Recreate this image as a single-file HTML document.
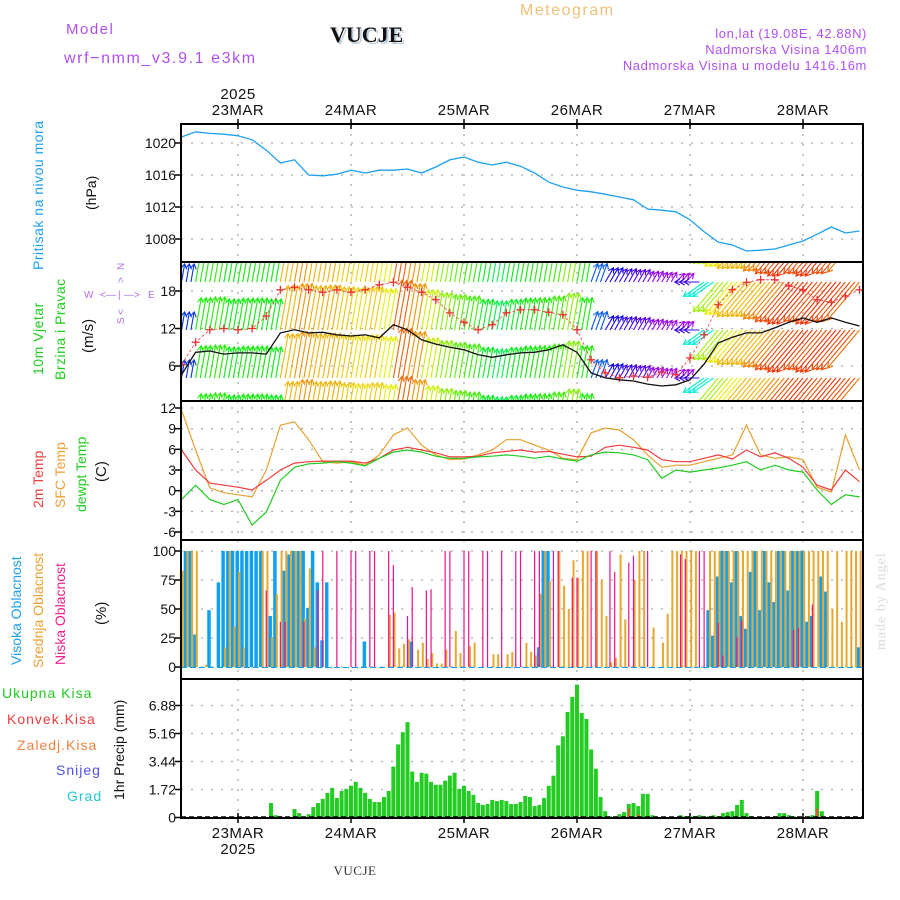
<!DOCTYPE html>
<html><head><meta charset="utf-8">
<style>
html,body{margin:0;padding:0;background:#fff;}
svg{display:block;font-family:"Liberation Sans",sans-serif;}
</style></head>
<body>
<svg id="chart" width="900" height="900" viewBox="0 0 900 900" xmlns="http://www.w3.org/2000/svg">
<rect x="0" y="0" width="900" height="900" fill="#fff"/>
<defs>
<clipPath id="cp1"><rect x="181" y="124" width="682" height="138"/></clipPath>
<clipPath id="cp2"><rect x="181" y="262" width="682" height="139"/></clipPath>
<clipPath id="cp3"><rect x="181" y="401" width="682" height="139"/></clipPath>
<clipPath id="cp4"><rect x="181" y="540" width="682" height="139"/></clipPath>
<clipPath id="cp5"><rect x="181" y="679" width="682" height="139"/></clipPath>
</defs>
<!-- header -->
<text x="66" y="34" font-size="15" fill="#b050f0" letter-spacing="1.5">Model</text>
<text x="64" y="63" font-size="16" fill="#b050f0" letter-spacing="1.6">wrf−nmm_v3.9.1 e3km</text>
<text x="332" y="44" font-size="22" font-weight="bold" fill="#bcd" font-family="Liberation Serif, serif">VUCJE</text>
<text x="330" y="42" font-size="22" font-weight="bold" fill="#111" font-family="Liberation Serif, serif">VUCJE</text>
<text x="520" y="15" font-size="16" fill="#f0c078" letter-spacing="1.5">Meteogram</text>
<text x="867" y="38" font-size="13" fill="#b050f0" text-anchor="end" letter-spacing="0.6">lon,lat (19.08E, 42.88N)</text>
<text x="867" y="54" font-size="13" fill="#b050f0" text-anchor="end" letter-spacing="0.6">Nadmorska Visina 1406m</text>
<text x="867" y="70" font-size="13" fill="#b050f0" text-anchor="end" letter-spacing="0.6">Nadmorska Visina u modelu 1416.16m</text>
<text x="238" y="99" font-size="15" fill="#111" text-anchor="middle" letter-spacing="0.5">2025</text>
<text x="238" y="854" font-size="15" fill="#111" text-anchor="middle" letter-spacing="0.5">2025</text>
<text x="355" y="875" font-size="13" fill="#333" text-anchor="middle" font-family="Liberation Serif, serif" letter-spacing="0.5">VUCJE</text>
<text transform="translate(885,650) rotate(-90)" font-size="14" fill="#d8dcd8" font-family="Liberation Serif, serif" letter-spacing="1">made by Angel</text>

<!-- left labels -->
<text transform="translate(43,270) rotate(-90)" font-size="14" fill="#1ea0f0" letter-spacing="0.5">Pritisak na nivou mora</text>
<text transform="translate(96,210) rotate(-90)" font-size="14" fill="#111">(hPa)</text>
<text transform="translate(43,375) rotate(-90)" font-size="14" fill="#20cc20" letter-spacing="0.5">10m Vjetar</text>
<text transform="translate(65,380) rotate(-90)" font-size="14" fill="#20cc20" letter-spacing="0.5">Brzina i Pravac</text>
<text transform="translate(93,353) rotate(-90)" font-size="15" fill="#111">(m/s)</text>
<g fill="#b070f0" font-size="10">
<text x="84" y="298">W</text><text x="100" y="298">&lt;—</text><text x="118" y="298">|</text><text x="124" y="298">—&gt;</text><text x="148" y="298">E</text>
<text transform="translate(124,270) rotate(-90)">N</text>
<text transform="translate(124,283) rotate(-90)">&gt;</text>
<text transform="translate(124,315) rotate(-90)">&lt;</text>
<text transform="translate(124,324) rotate(-90)">S</text>
</g>
<text transform="translate(43,508) rotate(-90)" font-size="14" fill="#f03c3c">2m Temp</text>
<text transform="translate(65,508) rotate(-90)" font-size="14" fill="#f0a030">SFC Temp</text>
<text transform="translate(86,512) rotate(-90)" font-size="14" fill="#20cc20">dewpt Temp</text>
<text transform="translate(106,482) rotate(-90)" font-size="15" fill="#111">(C)</text>
<text transform="translate(21,665) rotate(-90)" font-size="14" fill="#1ea0f0">Visoka Oblacnost</text>
<text transform="translate(43,668) rotate(-90)" font-size="14" fill="#f0a030">Srednja Oblacnost</text>
<text transform="translate(65,665) rotate(-90)" font-size="14" fill="#f0208c">Niska Oblacnost</text>
<text transform="translate(106,625) rotate(-90)" font-size="15" fill="#111">(%)</text>
<text transform="translate(124,800) rotate(-90)" font-size="14" fill="#111">1hr Precip (mm)</text>
<text x="2" y="698" font-size="14" fill="#20cc20" letter-spacing="1">Ukupna Kisa</text>
<text x="7" y="724" font-size="14" fill="#f03c3c" letter-spacing="1">Konvek.Kisa</text>
<text x="17" y="750" font-size="14" fill="#f08040" letter-spacing="1">Zaledj.Kisa</text>
<text x="56" y="775" font-size="14" fill="#5050f0" letter-spacing="1">Snijeg</text>
<text x="67" y="801" font-size="14" fill="#20c8d8" letter-spacing="1">Grad</text>
<g id="plots"></g>
</svg>
<script>
const days = ["23MAR","24MAR","25MAR","26MAR","27MAR","28MAR"];
const dayHours = [12,36,60,84,108,132];
const pressTicks = [1020,1016,1012,1008];
const windTicks = [18,12,6];
const tempTicks = [12,9,6,3,0,-3,-6];
const cloudTicks = [100,75,50,25,0];
const precipTicks = [6.88,5.16,3.44,1.72,0];
// 3-hourly series (hours 0,3,...,144 from 22MAR 12UTC)
const pressure = [1020.75,1021.4,1021.2,1021.1,1020.9,1020.4,1019.1,1017.5,1017.9,1016,1015.9,1016.1,1016.6,1016.25,1016.6,1016.6,1016.75,1016.25,1017,1017.9,1018.25,1017.6,1017.25,1017.6,1017.1,1016.25,1015.1,1014.5,1014.1,1013.9,1013.6,1013.25,1012.9,1011.75,1011.6,1011.4,1010.4,1008.9,1007.6,1007.25,1006.5,1006.6,1006.75,1007.25,1007.75,1008.6,1009.5,1008.75,1009];
const temp2m = [5.9,3,1.1,0.8,0.5,0.1,1.5,3,4,4.2,4.3,4.3,4.3,4,4.7,5.9,6.3,5.9,5.5,4.9,4.9,5,5.5,5.7,5.9,5.6,5.7,5.3,4.9,5,6.3,6.6,6.3,5.9,4.5,4.2,4.2,4.7,5.2,4.6,5.9,4.9,5.5,4.7,3.4,0.8,0.1,3,1.3];
const tempSfc = [11.7,5.9,0.4,-0.3,-0.6,-0.9,3,9.5,10,7.4,4.2,4,4.2,3.7,5.2,8.1,9.1,6.6,5.2,4.5,4.6,5.2,5.9,7.4,7.4,6.6,5.9,4.7,4.5,8.4,9.1,8.8,7.4,5.2,3.4,3.7,3.7,4.2,4.7,5.2,9.5,5.2,4.7,4.9,4.5,0.5,-0.2,8.1,3];
const dewpt = [-1.3,0.8,-1.3,-2,-1.3,-5,-3.1,1.5,3.4,3.9,4,4.2,4,3.6,4.7,5.6,5.9,5.6,5,4.7,4.7,4.9,5,5.2,5,4.7,5,4.6,4.3,5.2,5.6,5.5,5.2,4.5,1.8,3,2.7,3,3.3,3.7,4.2,3,3.7,3,2.7,0.1,-2,-0.6,-0.9];
const windSpeed = [4.6,8.2,8.4,7.9,8.1,8.1,7.9,11.3,11.8,11.3,11.4,11,10.8,11,10.5,12.6,11.8,10.2,9.5,9,8.6,7.8,7.4,7.8,8.1,8.2,8.6,9.4,8.2,4.9,4.1,3.8,3.6,3.1,2.8,3,3.8,6.3,9.7,10.6,11.3,11.3,12.1,13,13.7,13,13.7,13,12.4];
const windGust = [6.2,9.8,11.8,12,11.8,12,14,18.2,18.6,18.2,17.8,18.2,17.8,18.2,19,19.4,18.6,17.8,16.6,14.5,13,11.8,12.6,14.5,15,15,14.6,14.2,11.8,7,4.9,4.1,4.4,4.2,5,4.6,7.3,11,15.8,18.2,19.4,19.8,19.8,18.8,18.2,16.6,16.2,17.2,18.2];
const windDirTo = [10,10,10,10,10,10,10,10,10,10,10,10,10,10,10,10,10,10,10,10,10,10,10,10,10,10,10,10,10,20,30,30,30,30,30,45,270,235,220,220,220,220,220,220,220,220,220,220,220];
// hourly series
const cloudHigh = [61,100,100,28,0,0,49,0,73,100,100,100,100,100,100,100,100,100,0,44,100,0,83,97,
100,100,100,51,100,73,23,73,0,0,0,0,0,0,0,22,0,0,0,0,0,0,0,0,
0,22,0,0,0,0,0,0,0,0,0,0,0,0,0,0,0,0,0,0,0,0,0,0,
0,0,0,0,17,100,100,0,0,0,0,0,0,0,0,0,0,0,0,0,0,0,0,0,
0,0,0,0,0,0,0,0,0,0,0,0,0,0,0,0,49,27,78,100,100,73,100,44,
33,82,100,49,100,73,56,100,100,66,100,100,100,39,44,0,78,65,0,0,0,0,0,0,17];
const cloudMid = [83,100,100,100,0,2,0,0,0,17,100,35,82,17,0,0,0,100,100,26,63,100,100,100,
100,100,42,85,17,0,0,0,0,0,0,0,0,0,0,0,0,0,0,0,45,47,16,20,
24,0,15,21,7,12,3,3,15,0,31,12,0,18,21,0,0,0,11,11,0,11,13,0,
0,21,13,10,63,100,74,0,100,70,50,92,77,100,100,0,100,75,44,4,8,97,41,0,
75,100,100,0,34,0,21,46,100,100,100,100,100,100,0,0,100,100,100,100,100,100,100,100,
100,100,100,100,100,100,100,100,100,100,100,100,100,100,100,100,100,100,50,100,39,100,100,100,100];
const cloudLow = [0,0,0,0,0,0,0,0,0,0,0,0,0,0,0,0,0,0,66,0,0,39,39,0,
0,0,39,0,0,66,100,0,0,100,0,0,100,100,0,0,100,100,0,0,100,88,0,0,
44,69,0,0,66,67,0,0,100,100,0,0,100,100,0,0,100,100,0,0,100,0,0,100,
100,0,0,100,100,0,0,100,100,0,0,77,77,0,0,100,100,0,0,100,82,0,0,90,
96,0,0,100,0,0,0,0,0,0,97,93,0,0,100,100,0,0,38,10,0,0,26,40,
0,0,0,0,0,0,0,0,0,0,32,34,0,0,54,0,0,0,0,0,0,0,0,0,0];
const precipTotal = [0,0,0,0,0.08,0,0,0,0,0,0,0,0,0,0,0,0,0,0,0.89,0.14,0.08,0,0,
0.52,0.27,0,0.2,0.64,0.89,1.14,1.51,1.82,1.2,1.63,1.76,1.95,2.19,1.82,1.51,1.14,0.95,0.95,1.26,1.63,3.13,4.49,5.24,
5.86,2.82,2.19,2.75,2.69,2.19,2.01,2.01,2.26,2.57,2.75,1.76,1.95,1.63,1.39,0.89,0.77,0.83,1.08,1.01,1.08,1.01,0.83,0.83,
0.95,1.32,1.26,0.7,0.77,1.2,1.95,2.57,4.43,4.99,6.48,7.41,8.16,6.42,6.05,4.18,3.0,1.26,0.39,0.08,0,0.2,0.33,0.83,
0.89,0.7,1.45,1.45,0.14,0,0,0,0,0,0.14,0.08,0.08,0.08,0.14,0,0.08,0.14,0.08,0.27,0.33,0.39,0.77,1.08,
0.27,0.08,0,0,0,0,0.08,0.27,0.27,0.14,0.08,0,0,0,0.14,1.63,0.39,0,0,0,0,0,0,0.08,0];
const precipConv = [0,0,0,0,0,0,0,0,0,0,0,0,0,0,0,0,0,0,0,0,0,0,0,0,
0,0,0,0,0,0,0,0,0,0,0,0,0,0,0,0,0,0,0,0,0,0,0,0,
0,0,0,0,0,0,0,0,0,0,0,0,0,0,0,0,0,0,0,0,0,0,0,0,
0,0,0,0,0,0,0,0,0,0,0,0,0,0.1,0,0,0,0,0,0,0,0,0,0.55,
0,0.2,0,0,0,0,0,0,0,0,0,0,0,0,0,0,0,0,0,0,0,0,0,0,
0,0,0,0,0,0,0,0,0,0,0,0,0,0,0,0.55,0.1,0,0,0,0,0,0,0,0];

const NS="http://www.w3.org/2000/svg";
const root=document.getElementById('plots');
const X0=181.5, PXH=113/24, LEFT=181, RIGHT=863;
function xH(h){return X0+h*PXH;}
function yP(p){return 143+(1020-p)*8;}
function yW(v){return 403.5-v*6.25;}
function yT(t){return 408+(12-t)*6.89;}
function yC(c){return 667-c*1.16;}
function yR(r){return 817.5-r*16.28;}
function mk(tag,attrs,parent){const e=document.createElementNS(NS,tag);for(const k in attrs)e.setAttribute(k,attrs[k]);(parent||root).appendChild(e);return e;}
const panels=[[124,262,'cp1'],[262,401,'cp2'],[401,540,'cp3'],[540,679,'cp4'],[679,818,'cp5']];

// grids & ticks
function hgrid(vals,fy,top,bot,fmt,name){
  vals.forEach(v=>{
    const y=fy(v);
    if(y>top+1&&y<bot-1){const g=mk('line',{x1:LEFT,x2:RIGHT,y1:y,y2:y,stroke:'#aaa','stroke-width':1.3,'stroke-dasharray':'2,8'});
    
    }
    const tk=mk('line',{x1:LEFT-6,x2:LEFT,y1:y,y2:y,stroke:'#000','stroke-width':1.5});
    
    
    const t=mk('text',{x:LEFT-5,y:y+5,'font-size':14,'text-anchor':'end',fill:'#111'});
    t.textContent=fmt(v);
    
    
  });
}
panels.forEach(p=>{
  dayHours.forEach(h=>{
    const x=xH(h);
    const g=mk('line',{x1:x,x2:x,y1:p[0],y2:p[1],stroke:'#aaa','stroke-width':1.3,'stroke-dasharray':'2,8'});
    
    
  });
});
hgrid(pressTicks,yP,124,262,v=>String(v),'pressure');
hgrid(windTicks,yW,262,401,v=>String(v),'wind');
hgrid(tempTicks,yT,401,540,v=>String(v),'temp');
hgrid(cloudTicks,yC,540,679,v=>String(v),'cloud');
hgrid(precipTicks,yR,679,818,v=>v===0?'0':v.toFixed(2),'precip');
days.forEach((d,i)=>{
  const x=xH(dayHours[i]);
  const t=mk('text',{x:x,y:115,'font-size':15,'text-anchor':'middle',fill:'#111','letter-spacing':0.5});
  t.textContent=d;
  
  
  const b=mk('text',{x:x,y:838,'font-size':15,'text-anchor':'middle',fill:'#111','letter-spacing':0.5});
  b.textContent=d;
  
  
  [124,818].forEach(y=>{const tk=mk('line',{x1:x,x2:x,y1:y-5,y2:y+5,stroke:'#000','stroke-width':1.5});
  
  });
});

function path(arr,fx,fy){return arr.map((v,i)=>(i?'L':'M')+fx(i).toFixed(1)+','+fy(v).toFixed(1)).join('');}
const h3=i=>xH(i*3);

// pressure
let g=mk('g',{'clip-path':'url(#cp1)'});
let e=mk('path',{d:path(pressure,h3,yP),fill:'none',stroke:'#1ea0f0','stroke-width':1.3},g);



// wind arrows
function hueFor(v){const pts=[[0,285],[3,280],[5,215],[8,120],[11,50],[13,18],[15,0],[30,0]];
  for(let i=1;i<pts.length;i++){if(v<=pts[i][0]){const a=pts[i-1],b=pts[i];return a[1]+(b[1]-a[1])*(v-a[0])/(b[0]-a[0]);}}return 0;}
g=mk('g',{'clip-path':'url(#cp2)'});
const rows=[234,282,330,378,426];
windSpeed.forEach((v,i)=>{
  for(let k=0;k<3;k++){
    const h=i*3+k; if(h>144)break;
    const x=xH(h), dir=windDirTo[i]*Math.PI/180, L=v*4;
    const dx=Math.sin(dir)*L, dy=-Math.cos(dir)*L;
    const col='hsl('+hueFor(v).toFixed(0)+',95%,48%)';
    const ux=dx/L, uy=dy/L;
    rows.forEach(y=>{
      const hx=x+dx, hy=y+dy;
      const a=mk('path',{d:'M'+x.toFixed(1)+','+y+'L'+hx.toFixed(1)+','+hy.toFixed(1)+
        'M'+(hx-ux*5-uy*3).toFixed(1)+','+(hy-uy*5+ux*3).toFixed(1)+'L'+hx.toFixed(1)+','+hy.toFixed(1)+'L'+(hx-ux*5+uy*3).toFixed(1)+','+(hy-uy*5-ux*3).toFixed(1),
        fill:'none',stroke:col,'stroke-width':1.1},g);
      
      
    });
  }
});
e=mk('path',{d:path(windGust,h3,yW),fill:'none',stroke:'#f04040','stroke-width':0.8,'stroke-dasharray':'3,2'},g);


windGust.forEach((v,i)=>{
  const x=h3(i),y=yW(v);
  const m=mk('path',{d:`M${x-4},${y}h8M${x},${y-4}v8`,stroke:'#f03030','stroke-width':1.3},g);
  
  
});
e=mk('path',{d:path(windSpeed,h3,yW),fill:'none',stroke:'#111','stroke-width':1.3},g);



// temperatures
g=mk('g',{'clip-path':'url(#cp3)'});
[[tempSfc,'#e8a030','sfc-temp-line'],[temp2m,'#f03c3c','temp-2m-line'],[dewpt,'#20cc20','dewpt-line']].forEach(s=>{
  const p=mk('path',{d:path(s[0],h3,yT),fill:'none',stroke:s[1],'stroke-width':1.2},g);
  
  
});

// clouds
g=mk('g',{'clip-path':'url(#cp4)'});
cloudHigh.forEach((v,h)=>{ if(v<=0)return; const r=mk('rect',{x:xH(h)-2.5,y:yC(v),width:3.5,height:v*1.16,fill:'#10a0f0'},g);
  
  });
cloudMid.forEach((v,h)=>{ if(v<=0)return; const r=mk('rect',{x:xH(h)+0.2,y:yC(v),width:2,height:v*1.16,fill:'#e8a830'},g);
  
  });
cloudLow.forEach((v,h)=>{ if(v<=0)return; const r=mk('rect',{x:xH(h)-0.6,y:yC(v),width:1.2,height:v*1.16,fill:'#f0108c'},g);
  
  });
e=mk('line',{x1:LEFT,x2:RIGHT,y1:667.5,y2:667.5,stroke:'#10a0f0','stroke-width':1,'stroke-dasharray':'6,3'},g);



// precipitation
g=mk('g',{'clip-path':'url(#cp5)'});
precipTotal.forEach((v,h)=>{ if(v<=0)return; const r=mk('rect',{x:xH(h)-2,y:yR(v),width:4,height:v*16.28,fill:'#22cc22'},g);
  
  });
precipConv.forEach((v,h)=>{ if(v<=0)return; const r=mk('rect',{x:xH(h)-1,y:yR(v),width:2,height:v*16.28,fill:'#f05030'},g);
  
  });
e=mk('line',{x1:LEFT,x2:RIGHT,y1:817,y2:817,stroke:'#000','stroke-width':1.5,'stroke-dasharray':'5,3'},g);



// frames
panels.forEach((p,i)=>{
  const r=mk('rect',{x:LEFT,y:p[0],width:RIGHT-LEFT,height:p[1]-p[0],fill:'none',stroke:'#000','stroke-width':2});
  
  
});
</script>
</body></html>
